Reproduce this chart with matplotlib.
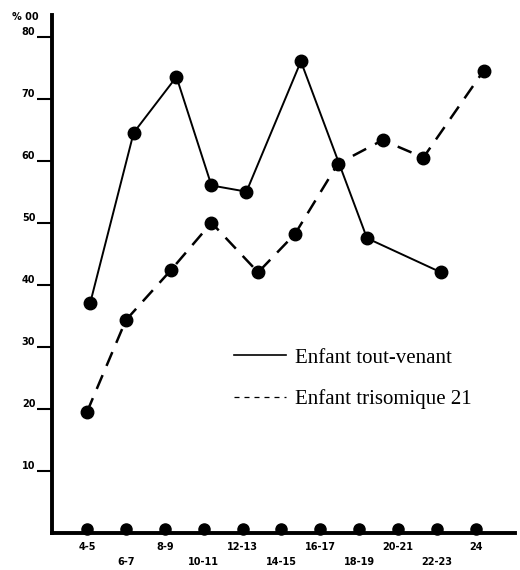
import matplotlib.pyplot as plt
from matplotlib.lines import Line2D

# age groups on the x axis
categories = ['4-5', '6-7', '8-9', '10-11', '12-13', '14-15',
              '16-17', '18-19', '20-21', '22-23', '24']

# hand-placed points, positions in category units
tout_pos = [0.08, 1.2, 2.3, 3.2, 4.1, 5.5, 7.2, 9.1]
tout_val = [37, 64.5, 73.5, 56, 55, 76, 47.5, 42]

tri_pos = [0.0, 1.0, 2.15, 3.2, 4.4, 5.35, 6.45, 7.6, 8.65, 10.2]
tri_val = [19.5, 34.3, 42.3, 50, 42, 48.2, 59.5, 63.3, 60.5, 74.5]

y_ticks = [10, 20, 30, 40, 50, 60, 70, 80]

fig = plt.figure(figsize=(5.2, 5.7), dpi=100)
ax = fig.add_axes([0.1, 0.065, 0.89, 0.909])

x_idx = list(range(len(categories)))

ax.plot(tout_pos, tout_val, color='black', lw=1.4, marker='o', ms=9, zorder=3)
ax.plot(tri_pos, tri_val, color='black', lw=1.8, dashes=(6, 4), marker='o', ms=9, zorder=3)

# dots sitting on the x axis
ax.plot(x_idx, [0.7] * len(x_idx), 'o', color='black', ms=8, clip_on=False, zorder=4)

ax.set_xlim(-0.9, 11.0)
ax.set_ylim(0, 83.5)

for s in ['top', 'right']:
    ax.spines[s].set_visible(False)
for s in ['left', 'bottom']:
    ax.spines[s].set_linewidth(2.8)

ax.set_yticks(y_ticks)
ax.set_yticklabels([str(v) for v in y_ticks], fontsize=7, fontweight='bold')
ax.tick_params(axis='y', direction='out', length=11, width=1.5, pad=1)
for lbl in ax.get_yticklabels():
    lbl.set_va('bottom')

# staggered x labels, no tick marks
ax.set_xticks([])
for i, c in enumerate(categories):
    off = -10 if i % 2 == 0 else -21
    ax.annotate(c, (i, 0), xytext=(0, off), textcoords='offset points',
                ha='center', va='center', fontsize=7, fontweight='bold',
                annotation_clip=False)

fig.text(12 / 520, 1 - 17 / 570, '% 00', fontsize=7, fontweight='bold', va='center')

handles = [Line2D([], [], color='black', lw=1.2),
           Line2D([], [], color='black', lw=0.9, dashes=(4, 4))]
ax.legend(handles, ['Enfant tout-venant', 'Enfant trisomique 21'],
          loc='upper left', bbox_to_anchor=(234 / 520, 1 - 348 / 570),
          bbox_transform=fig.transFigure, frameon=False, borderpad=0,
          borderaxespad=0, handlelength=2.5, handletextpad=0.45, labelspacing=1.05,
          prop={'family': 'Liberation Serif', 'size': 15})

fig.savefig('out.png', dpi=100)
